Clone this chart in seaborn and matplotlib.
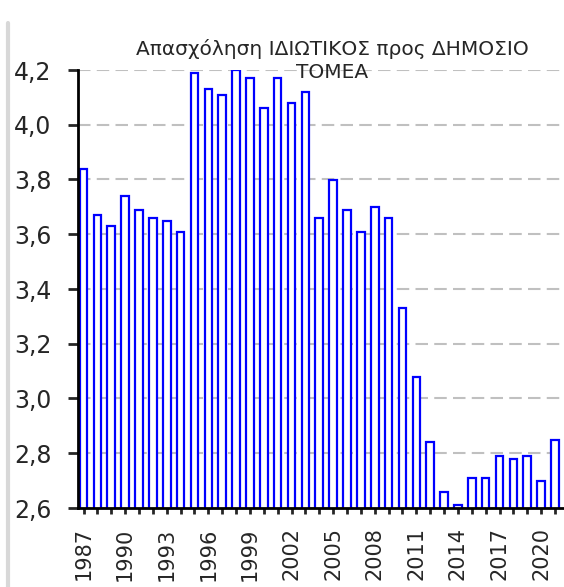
import matplotlib
matplotlib.use("Agg")
import matplotlib.pyplot as plt
import seaborn as sns
import numpy as np
from matplotlib.ticker import FuncFormatter
from matplotlib.lines import Line2D

# 데이터
years = list(range(1987, 2022))
values = [3.84, 3.67, 3.63, 3.74, 3.69, 3.66, 3.65, 3.61,
          4.19, 4.13, 4.11, 4.20, 4.17, 4.06, 4.17, 4.08, 4.12,
          3.66, 3.80, 3.69, 3.61, 3.70, 3.66,
          3.33, 3.08, 2.84, 2.66, 2.61, 2.71, 2.71, 2.79, 2.78, 2.79, 2.70, 2.85]
title = "Απασχόληση ΙΔΙΩΤΙΚΟΣ προς ΔΗΜΟΣΙΟ\nΤΟΜΕΑ"

sns.set_style("white")
plt.rcParams['font.family'] = ['DejaVu Sans']

fig = plt.figure(figsize=(5.64, 5.87), dpi=100)
ax = fig.add_axes([78/564, 1 - 508/587, 1 - 78/564, (508 - 70)/587])

sns.barplot(x=[str(y) for y in years], y=values, color='white', edgecolor='#0000ff',
            linewidth=1.6, width=0.55, ax=ax, saturation=1)

ax.set_ylim(2.6, 4.2)
ax.set_xlim(-0.4, len(years) - 0.35)
ax.set_yticks(np.arange(2.6, 4.21, 0.2))
ax.yaxis.set_major_formatter(FuncFormatter(lambda v, p: f"{v:.1f}".replace('.', ',')))

# 눈금 라벨: 3년 간격
ax.set_xticks(range(len(years)))
ax.set_xticklabels([str(y) if i % 3 == 0 else '' for i, y in enumerate(years)], rotation=90)

ax.grid(axis='y', color='#c0c0c0', linestyle=(0, (6, 3)), linewidth=1.5)
ax.set_axisbelow(True)

for s in ['top', 'right']:
    ax.spines[s].set_visible(False)
for s in ['left', 'bottom']:
    ax.spines[s].set_color('black')
    ax.spines[s].set_linewidth(2)

ax.tick_params(axis='y', direction='out', length=7, width=2, pad=12, labelsize=17, left=True)
ax.tick_params(axis='x', direction='out', length=4, width=2, pad=10, labelsize=15, bottom=True)
ax.set_xlabel('')
ax.set_ylabel('')

fig.text(332/564, 1 - 39/587, title, ha='center', va='top', fontsize=14.5, linespacing=1.25)

# 왼쪽 테두리
fig.add_artist(Line2D([8/564, 8/564], [0, 1 - 23/587], color='#d8d8d8', linewidth=3,
                      transform=fig.transFigure))

plt.savefig('out.png', dpi=100)
